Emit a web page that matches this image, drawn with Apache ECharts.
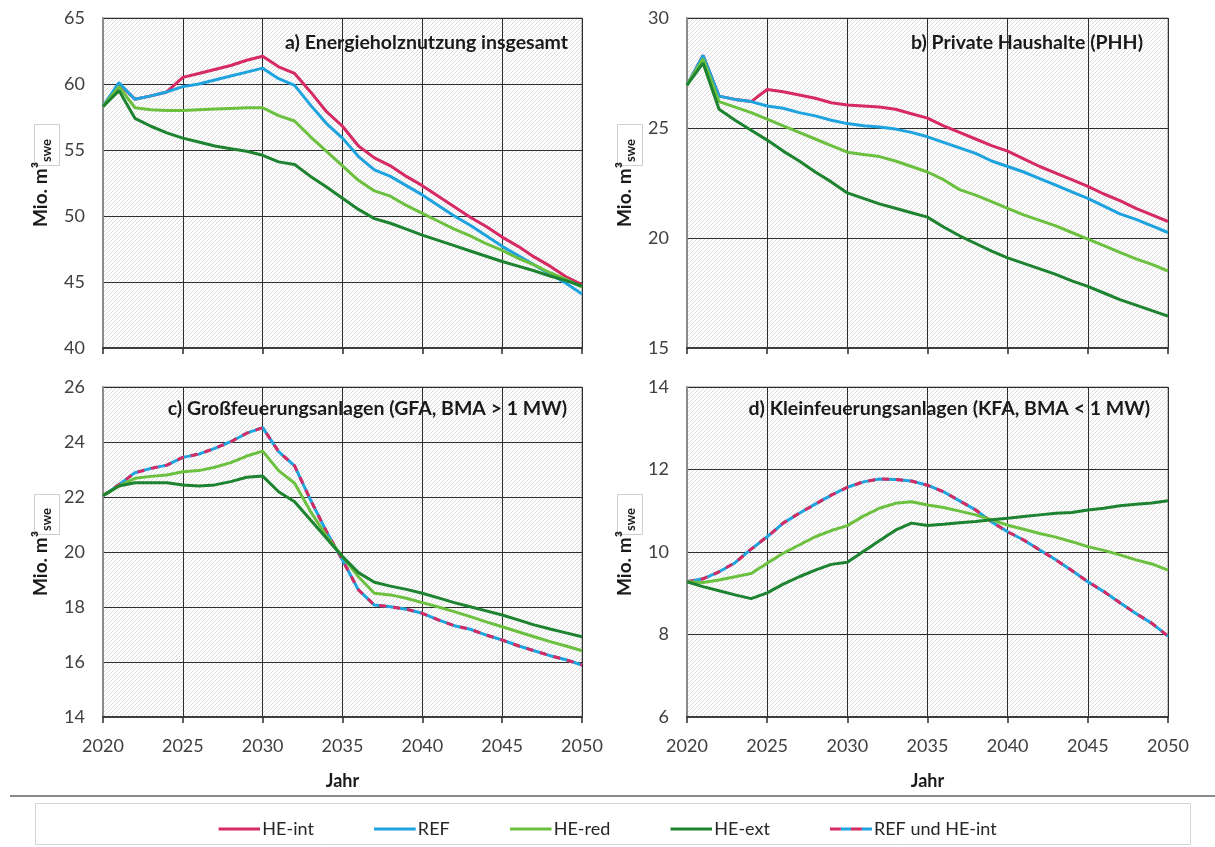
<!DOCTYPE html>
<html>
<head>
<meta charset="utf-8">
<script src="https://cdn.jsdelivr.net/npm/echarts@6/dist/echarts.min.js"></script>
<style>
  html, body { margin: 0; padding: 0; background: #ffffff; }
  #chart { width: 1215px; height: 847px; }
</style>
</head>
<body>
<div id="chart"></div>
<script>
// Years on the x axis
const years = [2020,2021,2022,2023,2024,2025,2026,2027,2028,2029,2030,2031,2032,2033,2034,2035,
               2036,2037,2038,2039,2040,2041,2042,2043,2044,2045,2046,2047,2048,2049,2050];

// a) Energieholznutzung insgesamt (Mio. m³ swe)
const aHEint = [58.3,60.0,58.85,59.1,59.4,60.5,60.8,61.1,61.4,61.8,62.1,61.3,60.8,59.4,57.9,56.8,
                55.3,54.4,53.8,53.0,52.3,51.5,50.7,49.9,49.2,48.4,47.7,46.9,46.2,45.4,44.8];
const aREF   = [58.3,60.1,58.85,59.1,59.4,59.8,60.0,60.3,60.6,60.9,61.2,60.4,59.9,58.4,57.0,55.9,
                54.5,53.5,53.0,52.3,51.6,50.8,50.0,49.3,48.5,47.7,47.0,46.3,45.6,44.9,44.1];
const aHEred = [58.3,59.8,58.2,58.05,58.0,58.0,58.05,58.1,58.15,58.2,58.2,57.6,57.2,56.0,54.9,53.8,
                52.7,51.9,51.5,50.8,50.2,49.6,49.0,48.5,47.9,47.4,46.8,46.3,45.7,45.2,44.6];
const aHEext = [58.3,59.5,57.4,56.8,56.3,55.9,55.6,55.3,55.1,54.9,54.6,54.1,53.9,53.0,52.2,51.35,
                50.5,49.8,49.45,49.0,48.55,48.15,47.75,47.35,46.95,46.55,46.2,45.85,45.45,45.1,44.7];

// b) Private Haushalte (PHH)
const bHEint = [26.95,28.3,26.45,26.3,26.2,26.75,26.65,26.5,26.35,26.15,26.05,26.0,25.95,25.85,25.65,25.45,
                25.1,24.8,24.5,24.2,23.95,23.6,23.25,22.95,22.65,22.35,22.0,21.7,21.35,21.05,20.75];
const bREF   = [26.95,28.3,26.45,26.3,26.2,26.0,25.9,25.7,25.55,25.35,25.2,25.1,25.05,24.95,24.8,24.6,
                24.35,24.1,23.85,23.5,23.25,23.0,22.7,22.4,22.1,21.8,21.45,21.1,20.85,20.55,20.25];
const bHEred = [26.95,28.15,26.2,25.95,25.7,25.4,25.1,24.8,24.5,24.2,23.9,23.8,23.7,23.5,23.25,23.0,
                22.65,22.2,21.95,21.65,21.35,21.05,20.8,20.55,20.25,19.95,19.65,19.35,19.05,18.8,18.5];
const bHEext = [26.95,27.95,25.85,25.35,24.9,24.45,23.95,23.5,23.0,22.55,22.05,21.8,21.55,21.35,21.15,20.95,
                20.5,20.1,19.75,19.4,19.1,18.85,18.6,18.35,18.05,17.8,17.5,17.2,16.95,16.7,16.45];

// c) Großfeuerungsanlagen (GFA, BMA > 1 MW) — REF and HE-int coincide
const cREFint = [22.05,22.45,22.88,23.04,23.16,23.44,23.56,23.77,24.01,24.32,24.52,23.65,23.13,21.89,20.74,19.71,
                 18.62,18.07,18.01,17.92,17.77,17.53,17.32,17.19,16.98,16.8,16.59,16.41,16.23,16.08,15.89];
const cHEred  = [22.05,22.4,22.68,22.75,22.8,22.92,22.96,23.08,23.25,23.49,23.67,22.96,22.5,21.47,20.58,19.83,
                 19.1,18.5,18.44,18.32,18.16,18.0,17.83,17.65,17.46,17.28,17.1,16.92,16.74,16.58,16.41];
const cHEext  = [22.05,22.4,22.52,22.52,22.52,22.44,22.4,22.44,22.56,22.72,22.76,22.19,21.83,21.16,20.5,19.83,
                 19.25,18.9,18.76,18.64,18.5,18.33,18.16,18.01,17.86,17.71,17.53,17.35,17.2,17.06,16.92];

// d) Kleinfeuerungsanlagen (KFA, BMA < 1 MW) — REF and HE-int coincide
const dREFint = [9.28,9.35,9.52,9.74,10.07,10.37,10.7,10.94,11.16,11.38,11.57,11.7,11.77,11.76,11.72,11.62,
                 11.46,11.24,11.02,10.73,10.49,10.29,10.05,9.81,9.55,9.28,9.04,8.77,8.51,8.27,7.96];
const dHEred  = [9.28,9.26,9.32,9.4,9.48,9.73,9.97,10.17,10.37,10.52,10.64,10.87,11.06,11.18,11.22,11.14,
                 11.08,10.99,10.9,10.78,10.65,10.55,10.45,10.36,10.25,10.13,10.04,9.93,9.81,9.71,9.56];
const dHEext  = [9.28,9.16,9.06,8.96,8.87,9.01,9.22,9.4,9.56,9.7,9.75,10.01,10.27,10.53,10.7,10.64,
                 10.67,10.71,10.74,10.78,10.82,10.86,10.9,10.94,10.96,11.02,11.06,11.12,11.16,11.19,11.24];

// Panel titles and y-axis ranges
const panelTitles = ['a) Energieholznutzung insgesamt', 'b) Private Haushalte (PHH)',
                     'c) Großfeuerungsanlagen (GFA, BMA > 1 MW)', 'd) Kleinfeuerungsanlagen (KFA, BMA < 1 MW)'];
const yRanges = [[40, 65, 5], [15, 30, 5], [14, 26, 2], [6, 14, 2]];
const legendNames = ['HE-int', 'REF', 'HE-red', 'HE-ext', 'REF und HE-int'];

const COL = { int: '#d62a63', ref: '#1fa3df', red: '#6cc040', ext: '#1d8330' };
const FONT = 'Lato, "Noto Sans", sans-serif';

// Diagonal hatch tile for the plot backgrounds
function hatchTile() {
  const s = 4;
  const c = document.createElement('canvas');
  c.width = s; c.height = s;
  const g = c.getContext('2d');
  g.fillStyle = '#ffffff';
  g.fillRect(0, 0, s, s);
  g.strokeStyle = '#d7d7d7';
  g.lineWidth = 0.9;
  g.beginPath();
  g.moveTo(-1, s + 1); g.lineTo(s + 1, -1);
  g.moveTo(-1, 1); g.lineTo(1, -1);
  g.moveTo(s - 1, s + 1); g.lineTo(s + 1, s - 1);
  g.stroke();
  return c;
}
const hatch = { image: hatchTile(), repeat: 'repeat' };

// Plot rectangles
const grids = [
  { left: 103, top: 18,  width: 479, height: 330 },
  { left: 687, top: 18,  width: 481, height: 330 },
  { left: 103, top: 387, width: 479, height: 330 },
  { left: 687, top: 387, width: 481, height: 330 }
].map(g => Object.assign({
  show: true, backgroundColor: hatch, borderColor: '#8c8c8c', borderWidth: 1
}, g));

const xAxes = grids.map((g, i) => ({
  type: 'value', gridIndex: i, min: 2020, max: 2050, interval: 5,
  axisLine: { show: true, onZero: false, lineStyle: { color: '#3c3c3c', width: 2 } },
  axisTick: { show: true, inside: false, length: 6, lineStyle: { color: '#2a2a2a', width: 1.5 } },
  splitLine: { show: true, lineStyle: { color: '#2e2e2e', width: 1 } },
  axisLabel: {
    show: i >= 2, margin: 20, fontSize: 18, color: '#404040', fontFamily: FONT,
    formatter: v => String(v)
  },
  name: i >= 2 ? 'Jahr' : '',
  nameLocation: 'middle', nameGap: 55,
  nameTextStyle: { fontSize: 18, fontWeight: 'bold', color: '#1a1a1a', fontFamily: FONT }
}));

const yAxes = grids.map((g, i) => ({
  type: 'value', gridIndex: i,
  min: yRanges[i][0], max: yRanges[i][1], interval: yRanges[i][2],
  axisLine: { show: true, lineStyle: { color: '#8c8c8c', width: 2 } },
  axisTick: { show: false },
  splitLine: { show: true, lineStyle: { color: '#2e2e2e', width: 1 } },
  axisLabel: { margin: 18, fontSize: 18, color: '#404040', fontFamily: FONT },
  name: '{m|Mio. m³}{s|swe}',
  nameLocation: 'middle', nameRotate: 90, nameGap: 50,
  nameTextStyle: {
    color: '#1a1a1a', fontFamily: FONT,
    rich: {
      m: { fontSize: 19, fontWeight: 'bold', color: '#1a1a1a', fontFamily: FONT },
      s: { fontSize: 13, fontWeight: 'bold', color: '#1a1a1a', fontFamily: FONT, padding: [11, 0, 0, 0] }
    }
  }
}));

function line(name, color, values, gi, extra) {
  return Object.assign({
    type: 'line', name: name, xAxisIndex: gi, yAxisIndex: gi,
    data: years.map((y, k) => [y, values[k]]),
    showSymbol: false, symbol: 'none', silent: true, animation: false,
    lineStyle: { color: color, width: 3 }, itemStyle: { color: color }
  }, extra || {});
}

const series = [
  line('HE-int', COL.int, aHEint, 0), line('REF', COL.ref, aREF, 0),
  line('HE-red', COL.red, aHEred, 0), line('HE-ext', COL.ext, aHEext, 0),
  line('HE-int', COL.int, bHEint, 1), line('REF', COL.ref, bREF, 1),
  line('HE-red', COL.red, bHEred, 1), line('HE-ext', COL.ext, bHEext, 1),
  line('REF und HE-int', COL.ref, cREFint, 2),
  line('REF und HE-int', COL.int, cREFint, 2, { lineStyle: { color: COL.int, width: 3, type: [7, 7] } }),
  line('HE-red', COL.red, cHEred, 2), line('HE-ext', COL.ext, cHEext, 2),
  line('REF und HE-int', COL.ref, dREFint, 3),
  line('REF und HE-int', COL.int, dREFint, 3, { lineStyle: { color: COL.int, width: 3, type: [7, 7] } }),
  line('HE-red', COL.red, dHEred, 3), line('HE-ext', COL.ext, dHEext, 3)
];

// Legend swatches: a plain bar per scenario, and a two-colour dashed bar
function svgIcon(parts) {
  const svg = "<svg xmlns='http://www.w3.org/2000/svg' width='42' height='14'>" +
    parts.map(p => "<rect x='" + p[0] + "' y='5.5' width='" + p[1] + "' height='3' fill='" + p[2] + "'/>").join('') +
    "</svg>";
  return 'image://data:image/svg+xml;charset=utf-8,' + encodeURIComponent(svg);
}
const legendIcons = {
  'HE-int': svgIcon([[0, 42, COL.int]]),
  'REF': svgIcon([[0, 42, COL.ref]]),
  'HE-red': svgIcon([[0, 42, COL.red]]),
  'HE-ext': svgIcon([[0, 42, COL.ext]]),
  'REF und HE-int': svgIcon([[0, 11, COL.int], [11, 10, COL.ref], [21, 11, COL.int], [32, 10, COL.ref]])
};

const titleRight = [647, 72, 648, 65];
const titleTop = [33, 33, 399, 399];

const option = {
  animation: false,
  backgroundColor: '#ffffff',
  textStyle: { fontFamily: FONT },
  title: panelTitles.map((t, i) => ({
    text: t, right: titleRight[i], top: titleTop[i], padding: 0,
    textStyle: { fontSize: 19.5, fontWeight: 'bold', color: '#1a1a1a', fontFamily: FONT }
  })),
  grid: grids,
  xAxis: xAxes,
  yAxis: yAxes,
  legend: {
    left: 'center', top: 815, itemWidth: 42, itemHeight: 14, itemGap: 60,
    selectedMode: false,
    textStyle: { fontSize: 18, color: '#262626', fontFamily: FONT, padding: [0, 0, 0, -3] },
    data: legendNames.map(n => ({ name: n, icon: legendIcons[n] }))
  },
  graphic: [
    { type: 'line', silent: true, shape: { x1: 10, y1: 796, x2: 1215, y2: 796 },
      style: { stroke: '#8a8a8a', lineWidth: 2 } },
    { type: 'rect', silent: true, shape: { x: 35.5, y: 803.5, width: 1155, height: 41 },
      style: { fill: 'none', stroke: '#d4d4d4', lineWidth: 1 } },
    { type: 'rect', silent: true, shape: { x: 34.5, y: 124.5, width: 25, height: 41 },
      style: { fill: 'none', stroke: '#cfcfcf', lineWidth: 1 } },
    { type: 'rect', silent: true, shape: { x: 617.5, y: 124.5, width: 25, height: 41 },
      style: { fill: 'none', stroke: '#cfcfcf', lineWidth: 1 } },
    { type: 'rect', silent: true, shape: { x: 34.5, y: 494.5, width: 25, height: 40 },
      style: { fill: 'none', stroke: '#cfcfcf', lineWidth: 1 } },
    { type: 'rect', silent: true, shape: { x: 617.5, y: 494.5, width: 25, height: 40 },
      style: { fill: 'none', stroke: '#cfcfcf', lineWidth: 1 } }
  ],
  series: series
};

const chart = echarts.init(document.getElementById('chart'), null, { renderer: 'canvas' });
chart.setOption(option);
</script>
</body>
</html>
